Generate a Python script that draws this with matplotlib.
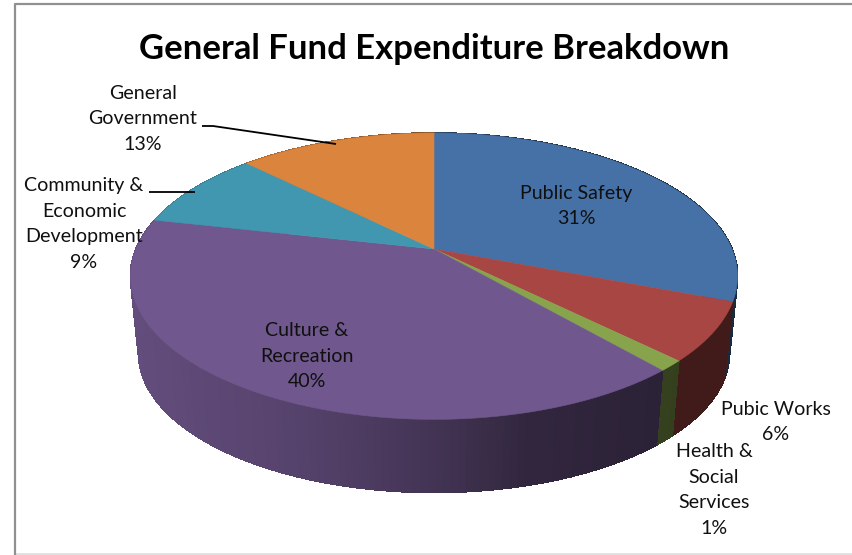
#!/usr/bin/env python3
"""
General fund expenditure breakdown, drawn as a tilted 3D pie.
"""
import numpy as np
import matplotlib
matplotlib.use('Agg')
import matplotlib.pyplot as plt
from matplotlib.collections import PolyCollection
from matplotlib.colors import to_rgb
from matplotlib.patches import Polygon

plt.rcParams['font.family'] = ['Lato', 'DejaVu Sans']

TITLE = 'General Fund Expenditure Breakdown'

# Clockwise from twelve o'clock
categories = ['Public Safety', 'Pubic Works', 'Health &\nSocial\nServices',
              'Culture &\nRecreation', 'Community &\nEconomic\nDevelopment',
              'General\nGovernment']
percent_labels = ['31%', '6%', '1%', '40%', '9%', '13%']
# Slice sizes as they measure on the drawn pie
shares = [30.8, 6.6, 1.2, 39.9, 8.9, 12.6]
colors = ['#4571A6', '#A84644', '#87A44D', '#70578D', '#4197AF', '#DA843D']

# Label centres in pixels, same order as categories
label_xy = [(576, 206), (776, 422), (714, 490), (307, 356), (84, 224), (143, 119)]

# Pie geometry in pixels: top face, then bottom ring of the wall
CX = 434
TOP_CY, TOP_A, TOP_B = 249, 298, 138
BOT_CY, BOT_A, BOT_B = 327, 290, 134
TILT = 0.19


def project(theta, cy, a, b):
    # theta is clockwise from the back of the pie; near side is drawn larger
    x = np.sin(theta)
    y = -np.cos(theta)
    w = 1 - TILT * y
    return CX + a * x / w, cy + b * y / w


def wall_shade(sx):
    # Wall gets darker from left to right
    return np.interp(sx, [135, 300, 430, 530, 690], [0.88, 0.76, 0.6, 0.44, 0.38])


def main():
    fig = plt.figure(figsize=(8.52, 5.55), dpi=100)
    ax = fig.add_axes([0, 0, 1, 1])
    ax.set_xlim(0, 852)
    ax.set_ylim(555, 0)
    ax.axis('off')

    # Frame: the right side is cut off in the original
    ax.plot([15, 852], [553.5, 553.5], color='#DCDCDC', lw=1.2)
    ax.plot([852, 14.5, 14.5], [4, 4, 555], color='#909090', lw=1.6)

    edges = np.cumsum([0] + shares) / 100 * 2 * np.pi

    # Wall first, the top face covers whatever is behind it
    quads, quad_colors = [], []
    for i, color in enumerate(colors):
        n = max(3, int(shares[i] * 3))
        t = np.linspace(edges[i], edges[i + 1], n + 1)
        x0, y0 = project(t, TOP_CY, TOP_A, TOP_B)
        x1, y1 = project(t, BOT_CY, BOT_A, BOT_B)
        rgb = np.array(to_rgb(color))
        for j in range(n):
            quads.append([(x0[j], y0[j]), (x0[j + 1], y0[j + 1]), (x1[j + 1], y1[j + 1]), (x1[j], y1[j])])
            quad_colors.append(rgb * wall_shade((x0[j] + x0[j + 1]) / 2))
    ax.add_collection(PolyCollection(quads, facecolors=quad_colors, edgecolors=quad_colors,
                                     linewidths=0.6, antialiaseds=False))

    for i, color in enumerate(colors):
        t = np.linspace(edges[i], edges[i + 1], 200)
        x, y = project(t, TOP_CY, TOP_A, TOP_B)
        pts = np.column_stack([np.r_[CX, x], np.r_[TOP_CY, y]])
        ax.add_patch(Polygon(pts, closed=True, facecolor=color, edgecolor=color, lw=0.4))

    # Leader lines
    ax.plot([202, 213, 336], [126, 126, 144], color='black', lw=1.3, solid_capstyle='butt')
    ax.plot([149, 195], [192, 192], color='black', lw=1.3, solid_capstyle='butt')

    for cat, pct, (lx, ly) in zip(categories, percent_labels, label_xy):
        ax.text(lx, ly, f'{cat}\n{pct}', ha='center', va='center', fontsize=14.1,
                linespacing=1.6, color='#101010')

    ax.text(434, 49, TITLE, ha='center', va='center', fontsize=24.9, fontweight='bold', color='black')

    fig.savefig('out.png', dpi=100)


if __name__ == '__main__':
    main()
